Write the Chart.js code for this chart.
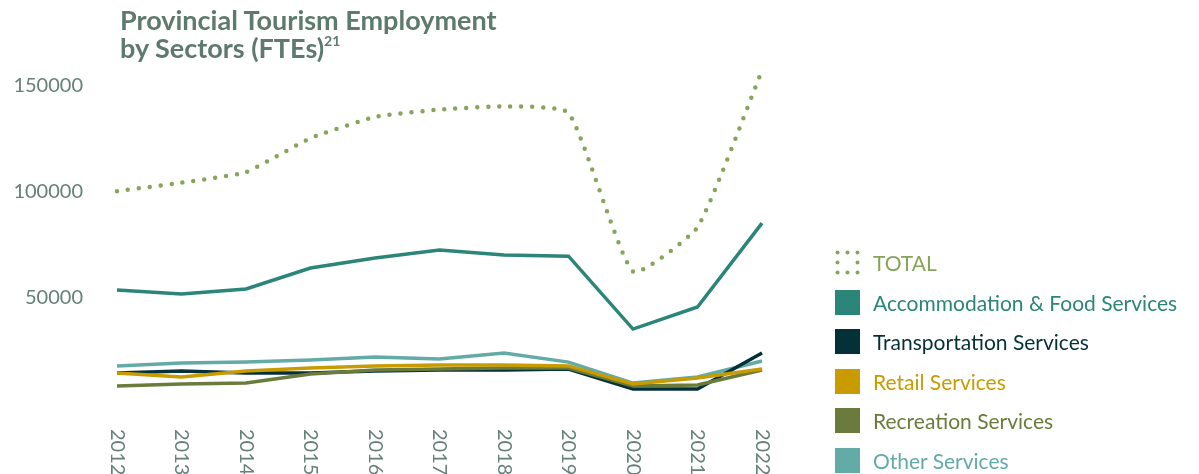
<!DOCTYPE html>
<html>
<head>
<meta charset="utf-8">
<script src="https://cdn.jsdelivr.net/npm/chart.js@4.4.1/dist/chart.umd.min.js"></script>
<style>
  html, body { margin: 0; padding: 0; background: #fff; }
  body { width: 1199px; height: 474px; position: relative; overflow: hidden; font-family: Lato, sans-serif; }
  #titulo { position: absolute; left: 120px; top: 6px; font-weight: 700; font-size: 27px; line-height: 28px; color: #5e7a6e; z-index: 2; }
  #titulo sup { font-size: 14px; line-height: 0; position: relative; top: -2px; }
  #grafica { position: absolute; left: 0; top: 0; }
  #leyenda { position: absolute; left: 835px; top: 243px; }
  .item { display: flex; align-items: center; height: 39.5px; font-size: 21px; }
  .cuadro { width: 25px; height: 25px; margin-right: 13px; flex: none; }
</style>
</head>
<body>
<div id="titulo">Provincial Tourism Employment<br>by Sectors (FTEs)<sup>21</sup></div>
<canvas id="grafica" width="1199" height="474"></canvas>
<div id="leyenda"></div>
<script>
// Años del eje X
const anios = ["2012", "2013", "2014", "2015", "2016", "2017", "2018", "2019", "2020", "2021", "2022"];
// Empleo por sector (FTEs)
const total = [100000, 104000, 109000, 125000, 135000, 138500, 140000, 137000, 62000, 83000, 157000];
const alojamiento = [53300, 51400, 53800, 63700, 68400, 72200, 69800, 69300, 34900, 45300, 84900];
const transporte = [14200, 15100, 14200, 14200, 15100, 15600, 15600, 16000, 6600, 6600, 23600];
const comercio = [14200, 12300, 15100, 16500, 17500, 17900, 17900, 17500, 9000, 11800, 16000];
const recreacion = [8000, 9000, 9400, 13700, 15600, 16000, 16500, 16500, 8000, 8500, 15600];
const otros = [17500, 18900, 19300, 20300, 21700, 20800, 23600, 19300, 9400, 12300, 19800];
// Etiquetas del eje Y
const ticksY = [50000, 100000, 150000];

const colorTexto = '#66807a';

// Series en el orden de la leyenda
const series = [
    { label: "TOTAL", data: total, color: '#86a55b', punteada: true },
    { label: "Accommodation & Food Services", data: alojamiento, color: '#2b8579' },
    { label: "Transportation Services", data: transporte, color: '#043038' },
    { label: "Retail Services", data: comercio, color: '#c89b00' },
    { label: "Recreation Services", data: recreacion, color: '#6a7b3b' },
    { label: "Other Services", data: otros, color: '#63aba7' },
];
// Orden de dibujo (menor = encima)
const ordenDibujo = [0, 1, 4, 2, 3, 5];

const datasets = series.map((s, i) => ({
    label: s.label,
    data: s.data,
    borderColor: s.color,
    backgroundColor: s.color,
    borderWidth: s.punteada ? 4.5 : 3.5,
    borderDash: s.punteada ? [0, 11] : [],
    borderCapStyle: s.punteada ? 'round' : 'butt',
    borderJoinStyle: 'miter',
    tension: s.punteada ? 0.15 : 0,
    pointRadius: 0,
    fill: false,
    order: ordenDibujo[i],
}));

// Etiquetas del eje X giradas (se leen de arriba hacia abajo)
const etiquetasVerticales = {
    id: 'etiquetasVerticales',
    afterDraw(chart) {
        const { ctx, scales: { x }, chartArea } = chart;
        ctx.save();
        ctx.fillStyle = colorTexto;
        ctx.font = '20px Lato';
        ctx.textAlign = 'left';
        ctx.textBaseline = 'middle';
        anios.forEach((a, i) => {
            ctx.save();
            ctx.translate(x.getPixelForValue(i), chartArea.bottom + 26);
            ctx.rotate(Math.PI / 2);
            ctx.fillText(a, 0, 0);
            ctx.restore();
        });
        ctx.restore();
    }
};

const $grafica = document.querySelector("#grafica");
new Chart($grafica, {
    type: 'line',
    data: { labels: anios, datasets: datasets },
    options: {
        responsive: false,
        animation: false,
        layout: { padding: { left: 4, right: 437, top: 64, bottom: 63 } },
        plugins: { legend: { display: false }, tooltip: { enabled: false } },
        scales: {
            x: {
                offset: false,
                grid: { display: false },
                border: { display: false },
                ticks: { display: false },
            },
            y: {
                min: 0,
                max: 160000,
                grid: { display: false },
                border: { display: false },
                afterBuildTicks: (escala) => { escala.ticks = ticksY.map(v => ({ value: v })); },
                afterFit: (escala) => { escala.width = 113; },
                ticks: {
                    color: colorTexto,
                    font: { family: 'Lato', size: 20 },
                    padding: 26,
                    callback: (v) => String(v),
                },
            },
        },
    },
    plugins: [etiquetasVerticales],
});

// Leyenda en HTML
const $leyenda = document.querySelector("#leyenda");
series.forEach(s => {
    const item = document.createElement('div');
    item.className = 'item';
    item.style.color = s.color;
    let icono;
    if (s.punteada) {
        const pts = [[2.5,2.5],[12.5,2.5],[22.5,2.5],[2.5,12.5],[22.5,12.5],[2.5,22.5],[12.5,22.5],[22.5,22.5]];
        icono = '<svg class="cuadro" viewBox="0 0 25 25">' +
            pts.map(p => `<circle cx="${p[0]}" cy="${p[1]}" r="2" fill="${s.color}"/>`).join('') + '</svg>';
    } else {
        icono = `<div class="cuadro" style="background:${s.color}"></div>`;
    }
    item.innerHTML = icono + '<span></span>';
    item.querySelector('span').textContent = s.label;
    $leyenda.appendChild(item);
});
</script>
</body>
</html>
